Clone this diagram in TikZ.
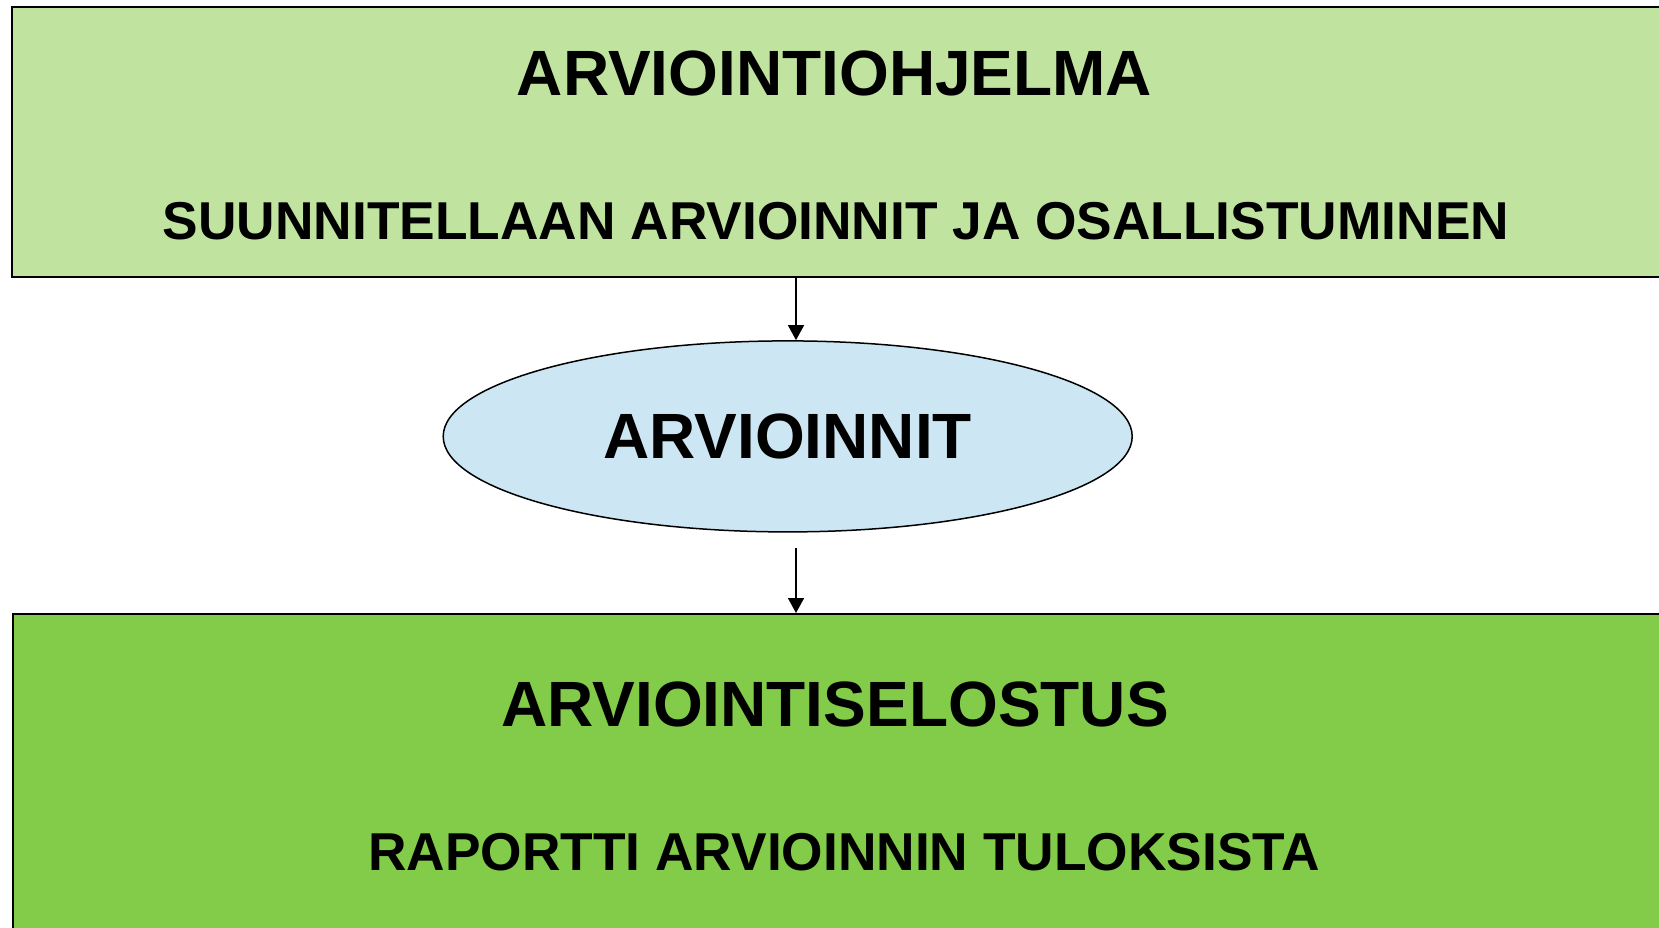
\documentclass[tikz,border=0pt]{standalone}
\usepackage{fontspec}
\setmainfont{Liberation Sans}
\usepackage{tikz}
\usetikzlibrary{shapes.geometric,arrows.meta}

\definecolor{plangreen}{RGB}{192,228,160}
\definecolor{reportgreen}{RGB}{130,204,74}
\definecolor{evalblue}{RGB}{204,231,243}

\tikzset{
	stagebox/.style={draw, line width=2pt, rectangle, anchor=north west, minimum width=1700pt, minimum height=400pt},
	headtext/.style={font=\fontsize{64}{70}\selectfont\bfseries, inner sep=0pt, anchor=base},
	subtext/.style={font=\fontsize{53.3}{60}\selectfont\bfseries, inner sep=0pt, anchor=base},
	flow/.style={line width=1.5pt, -{Triangle[width=16pt,length=15pt]}}
}

\begin{document}
\begin{tikzpicture}[x=1pt,y=1pt,yscale=-1,xscale=1]
		\clip (0,0) rectangle (1659,928); %set diagram to 1659 x 928
		
		%Shape: Rectangle [id:plan]
		\node[stagebox, fill=plangreen, minimum height=270pt] (plan) at (11,6) {};
		%Shape: Rectangle [id:report]
		\node[stagebox, fill=reportgreen] (report) at (12,613) {};
		%Shape: Ellipse [id:eval]
		\node[draw, line width=1.5pt, ellipse, fill=evalblue, minimum width=689pt, minimum height=191pt, inner sep=0pt,
			font=\fontsize{64}{70}\selectfont\bfseries] (eval) at (787.7,436.4) {ARVIOINNIT};
		
		%Straight Lines [id:arrows]
		\coordinate (axis) at (796,0);
		\coordinate (gap) at (796,548);
		\draw[flow] (axis |- plan.south) -- (axis |- eval.north);
		\draw[flow] (gap) -- (axis |- report.north);
		
		% Text Node
		\node[headtext] (plantitle) at (834.5,96) {ARVIOINTIOHJELMA};
		% Text Node
		\node[subtext] (plansub) at (836,239) {SUUNNITELLAAN ARVIOINNIT JA OSALLISTUMINEN};
		% Text Node
		\node[headtext] (reporttitle) at (835,726) {ARVIOINTISELOSTUS};
		% Text Node
		\node[subtext] (reportsub) at (844,870) {RAPORTTI ARVIOINNIN TULOKSISTA};
		
\end{tikzpicture}
\end{document}
